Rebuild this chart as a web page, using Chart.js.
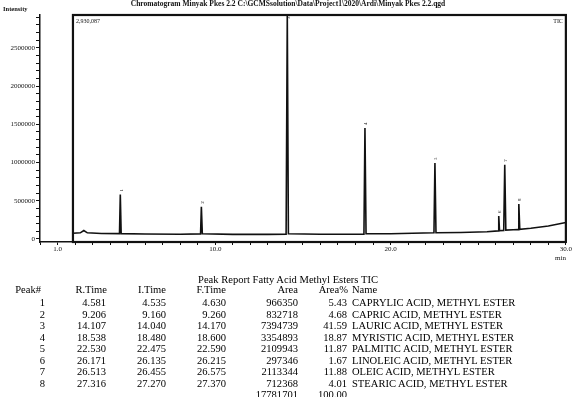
<!DOCTYPE html>
<html>
<head>
<meta charset="utf-8">
<script src="https://cdn.jsdelivr.net/npm/chart.js@4.4.1/dist/chart.umd.min.js"></script>
<style>
  body { margin: 0; background: #fff; }
  #wrap { position: relative; width: 572px; height: 397px; overflow: hidden; }
  #c { position: absolute; left: 0; top: 0; }
  #report { position: absolute; left: 0; top: 0; width: 700px; height: 397px;
            transform: scaleX(0.96); transform-origin: 0 0;
            font-family: 'Liberation Serif', 'Times New Roman', serif; font-size: 11px; color: #000; }
  #report div { position: absolute; white-space: nowrap; line-height: 12px; }
</style>
</head>
<body>
<div id="wrap">
  <canvas id="c" width="572" height="262"></canvas>
  <div id="report"></div>
</div>
<script>
// peak report
const peakNo = [1, 2, 3, 4, 5, 6, 7, 8];
const rTime = [4.581, 9.206, 14.107, 18.538, 22.530, 26.171, 26.513, 27.316];
const iTime = [4.535, 9.160, 14.040, 18.480, 22.475, 26.135, 26.455, 27.270];
const fTime = [4.630, 9.260, 14.170, 18.600, 22.590, 26.215, 26.575, 27.370];
const area = [966350, 832718, 7394739, 3354893, 2109943, 297346, 2113344, 712368];
const areaPct = [5.43, 4.68, 41.59, 18.87, 11.87, 1.67, 11.88, 4.01];
const names = [
    'CAPRYLIC ACID, METHYL ESTER',
    'CAPRIC ACID, METHYL ESTER',
    'LAURIC ACID, METHYL ESTER',
    'MYRISTIC ACID, METHYL ESTER',
    'PALMITIC ACID, METHYL ESTER',
    'LINOLEIC ACID, METHYL ESTER',
    'OLEIC ACID, METHYL ESTER',
    'STEARIC ACID, METHYL ESTER'
];
const totalArea = 17781701;
const totalPct = '100.00';

// TIC trace (min, intensity)
const traceTime = [1.88, 2.3, 2.5, 2.7, 3.5, 4.535, 4.581, 4.630, 6.0, 8.0, 9.160, 9.206, 9.260,
    11.0, 13.0, 14.040, 14.107, 14.170, 16.0, 18.480, 18.538, 18.600, 20.0, 22.475, 22.530, 22.590,
    24.0, 25.5, 26.135, 26.171, 26.215, 26.455, 26.513, 26.575, 27.0, 27.270, 27.316, 27.370,
    28.0, 29.0, 30.0];
const traceIntensity = [75000, 80000, 110000, 80000, 72000, 70000, 580000, 70000, 65000, 62000, 66000, 420000, 68000,
    60000, 60000, 62000, 2930087, 68000, 62000, 62000, 1450000, 70000, 68000, 80000, 995000, 82000,
    85000, 95000, 105000, 300000, 108000, 112000, 970000, 115000, 120000, 122000, 458000, 125000,
    140000, 170000, 215000];
const peakTop = [580000, 420000, 2930087, 1450000, 995000, 300000, 970000, 458000];

// axes
const xTickValues = [];
for (let v = 0; v <= 30; v++) xTickValues.push(v);
const xLabelValues = [1, 10, 20, 30];
const yTickValues = [];
for (let v = 0; v <= 2900000; v += 100000) yTickValues.push(v);
const yLabelStep = 500000;
const yMax = 2930087;
const frameStart = 1.88;

const chartTitle = 'Chromatogram Minyak Pkes 2.2 C:\\GCMSsolution\\Data\\Project1\\2020\\Ardi\\Minyak Pkes 2.2.qgd';

const serif = "'Liberation Serif', 'Times New Roman', serif";

const decorations = {
    id: 'decorations',
    afterDraw(chart) {
        const ctx = chart.ctx;
        const x = chart.scales.x, y = chart.scales.y;
        const area = chart.chartArea;
        ctx.save();
        ctx.fillStyle = '#111';
        ctx.strokeStyle = '#111';

        // title
        ctx.font = 'bold 7.5px ' + serif;
        ctx.textAlign = 'center';
        ctx.textBaseline = 'middle';
        ctx.fillText(chartTitle, 288, 4);

        ctx.font = 'bold 6.5px ' + serif;
        ctx.textAlign = 'left';
        ctx.fillText('Intensity', 3, 9);

        // data window frame
        const fx = x.getPixelForValue(frameStart);
        ctx.lineWidth = 2.2;
        ctx.strokeRect(fx, area.top, area.right - fx, area.bottom - area.top);

        ctx.font = '6px ' + serif;
        ctx.textBaseline = 'top';
        ctx.fillText('2,930,087', fx + 3, area.top + 3);
        ctx.textAlign = 'right';
        ctx.fillText('TIC', area.right - 3, area.top + 3);

        ctx.font = '7px ' + serif;
        ctx.textAlign = 'right';
        ctx.textBaseline = 'middle';
        ctx.fillText('min', area.right, 258);

        // peak numbers
        ctx.font = '5px ' + serif;
        rTime.forEach((t, i) => {
            const px = x.getPixelForValue(t);
            const py = Math.max(y.getPixelForValue(peakTop[i]) - 3, area.top + 4);
            ctx.save();
            ctx.translate(px + 1, py);
            ctx.rotate(-Math.PI / 2);
            ctx.textAlign = 'left';
            ctx.fillText(String(peakNo[i]), 0, 0);
            ctx.restore();
        });
        ctx.restore();
    }
};

new Chart(document.getElementById('c'), {
    type: 'line',
    data: {
        datasets: [{
            data: traceTime.map((t, i) => ({ x: t, y: traceIntensity[i] })),
            borderColor: '#111',
            borderWidth: 1.6,
            pointRadius: 0,
            tension: 0
        }]
    },
    options: {
        responsive: false,
        animation: false,
        layout: { padding: { top: 15, right: 6, bottom: 6, left: 0 } },
        plugins: { legend: { display: false }, tooltip: { enabled: false } },
        scales: {
            x: {
                type: 'linear',
                min: 0,
                max: 30,
                afterBuildTicks: s => { s.ticks = xTickValues.map(v => ({ value: v })); },
                afterFit: s => { s.height = 14; },
                ticks: {
                    autoSkip: false,
                    maxRotation: 0,
                    padding: 0,
                    color: '#111',
                    font: { family: serif, size: 7 },
                    callback: v => xLabelValues.includes(v) ? v.toFixed(1) : ''
                },
                grid: { drawOnChartArea: false, tickLength: 3, color: '#111' },
                border: { color: '#111', width: 1.5 }
            },
            y: {
                min: -40000,
                max: yMax,
                afterBuildTicks: s => { s.ticks = yTickValues.map(v => ({ value: v })); },
                afterFit: s => { s.width = 40; },
                ticks: {
                    autoSkip: false,
                    padding: 1,
                    color: '#111',
                    font: { family: serif, size: 7 },
                    callback: v => v % yLabelStep === 0 ? String(v) : ''
                },
                grid: { drawOnChartArea: false, tickLength: 4, color: '#111' },
                border: { color: '#111', width: 1.5 }
            }
        }
    },
    plugins: [decorations]
});

// report table, positions are in unscaled page pixels
const k = 0.96;
const report = document.getElementById('report');
function cell(text, xPos, yCenter, align) {
    const d = document.createElement('div');
    d.textContent = text;
    d.style.top = (yCenter - 6) + 'px';
    if (align === 'right') {
        d.style.left = (xPos / k - 300) + 'px';
        d.style.width = '300px';
        d.style.textAlign = 'right';
    } else if (align === 'center') {
        d.style.left = (xPos / k - 300) + 'px';
        d.style.width = '600px';
        d.style.textAlign = 'center';
    } else {
        d.style.left = (xPos / k) + 'px';
    }
    report.appendChild(d);
}

const colRight = { peak: 45, r: 106, i: 166, f: 226, area: 298, pct: 347 };
const nameLeft = 352;
const headerY = 289;
const rowY = [302, 313.5, 325, 336.5, 348, 359.5, 371, 382.5];
const totalY = 394;

cell('Peak Report Fatty Acid Methyl Esters TIC', 288, 279, 'center');
cell('Peak#', 41, headerY, 'right');
cell('R.Time', 107, headerY, 'right');
cell('I.Time', 166, headerY, 'right');
cell('F.Time', 226, headerY, 'right');
cell('Area', 298, headerY, 'right');
cell('Area%', 348, headerY, 'right');
cell('Name', nameLeft, headerY, 'left');
peakNo.forEach((p, i) => {
    cell(String(p), colRight.peak, rowY[i], 'right');
    cell(rTime[i].toFixed(3), colRight.r, rowY[i], 'right');
    cell(iTime[i].toFixed(3), colRight.i, rowY[i], 'right');
    cell(fTime[i].toFixed(3), colRight.f, rowY[i], 'right');
    cell(String(area[i]), colRight.area, rowY[i], 'right');
    cell(areaPct[i].toFixed(2), colRight.pct, rowY[i], 'right');
    cell(names[i], nameLeft, rowY[i], 'left');
});
cell(String(totalArea), colRight.area, totalY, 'right');
cell(totalPct, colRight.pct, totalY, 'right');
</script>
</body>
</html>
